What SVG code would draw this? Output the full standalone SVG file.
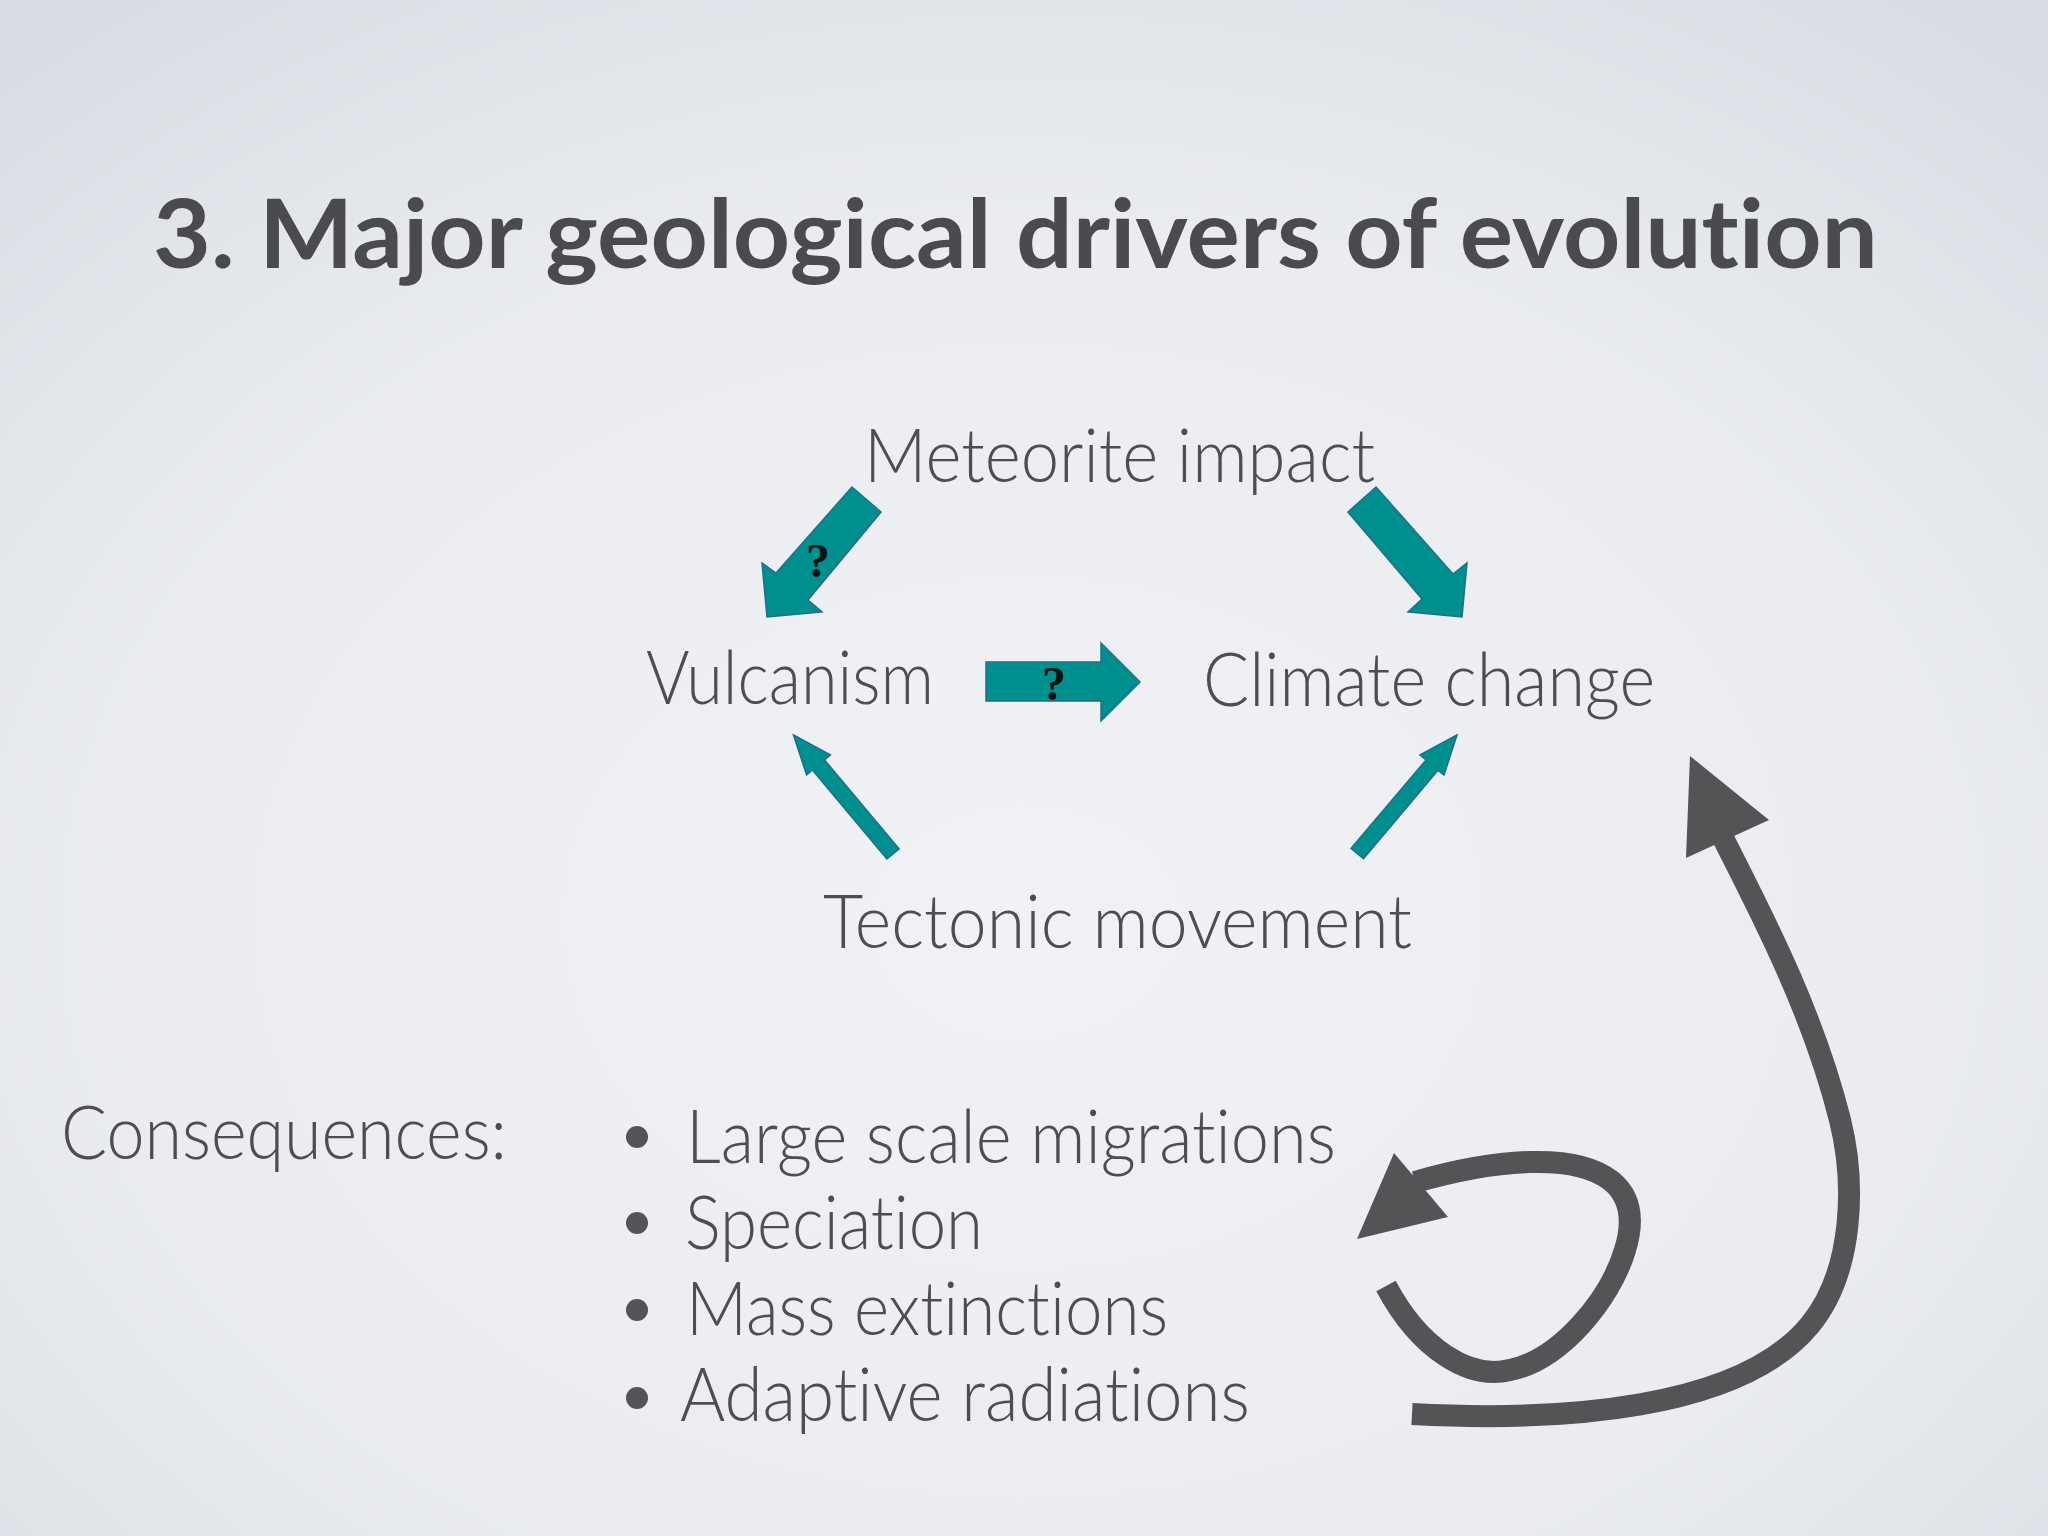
<svg xmlns="http://www.w3.org/2000/svg" width="2048" height="1536" viewBox="0 0 2048 1536">
<defs>
<radialGradient id="bg" cx="50%" cy="60%" r="75%">
<stop offset="0" stop-color="#f1f2f6"/>
<stop offset="0.6" stop-color="#eaecf0"/>
<stop offset="1" stop-color="#d9dde3"/>
</radialGradient>
<style>
.title{font-family:Lato,"Open Sans","Liberation Sans",sans-serif;font-weight:700;font-size:96px;fill:#4b4b4d;font-variant-ligatures:none}
.t{font-family:Lato,"Open Sans","Liberation Sans",sans-serif;font-weight:300;font-size:74px;fill:#4e4e50;font-variant-ligatures:none}
.q{font-family:"Liberation Serif","Times New Roman",serif;font-weight:700;font-size:48px;fill:#111}
.teal{fill:#008f8f;stroke:#1d6f8c;stroke-width:1.5;stroke-linejoin:miter}
.grey{fill:none;stroke:#545456;stroke-width:22}
.head{fill:#545456}
.bul{fill:#545456}
</style>
</defs>
<rect x="0" y="0" width="2048" height="1536" fill="url(#bg)"/>
<g id="title"><text class="title" x="153" y="268" textLength="1725" lengthAdjust="spacingAndGlyphs">3. Major geological drivers of evolution</text></g>
<g id="meteorite"><text class="t" x="864" y="482" textLength="511" lengthAdjust="spacingAndGlyphs">Meteorite impact</text></g>
<g id="vulcanism"><text class="t" x="646" y="704" textLength="288" lengthAdjust="spacingAndGlyphs">Vulcanism</text></g>
<g id="climate"><text class="t" x="1203" y="706" textLength="452" lengthAdjust="spacingAndGlyphs">Climate change</text></g>
<g id="tectonic"><text class="t" x="823" y="948" textLength="589" lengthAdjust="spacingAndGlyphs">Tectonic movement</text></g>
<g id="consequences"><text class="t" x="61" y="1159" textLength="446" lengthAdjust="spacingAndGlyphs">Consequences:</text></g>
<g id="list">
<circle class="bul" cx="637" cy="1137" r="11"/>
<text class="t" x="686" y="1163" textLength="650" lengthAdjust="spacingAndGlyphs">Large scale migrations</text>
<circle class="bul" cx="637" cy="1223" r="11"/>
<text class="t" x="685" y="1249" textLength="298" lengthAdjust="spacingAndGlyphs">Speciation</text>
<circle class="bul" cx="637" cy="1310" r="11"/>
<text class="t" x="686" y="1335" textLength="482" lengthAdjust="spacingAndGlyphs">Mass extinctions</text>
<circle class="bul" cx="637" cy="1398" r="11"/>
<text class="t" x="680" y="1421" textLength="570" lengthAdjust="spacingAndGlyphs">Adaptive radiations</text>
</g>
<g id="connectors">
<polygon class="teal" points="852,487 881,512 808,600 822,612 767,617 762,563 776,573"/>
<text class="q" x="806" y="577">?</text>
<polygon class="teal" points="1376,487 1348,512 1422,599 1408,612 1462,617 1467,563 1453,574"/>
<polygon class="teal" points="986,662 1101,662 1101,643 1140,682 1101,721 1101,701 986,701"/>
<text class="q" x="1042" y="700">?</text>
<polygon class="teal" points="793.5,735 830.4,755 824.6,760 899.1,849 886.9,859 812.4,770 806.6,775"/>
<polygon class="teal" points="1457,735 1420,755 1426,760 1351,848.5 1363.5,858.6 1438,770.3 1444,775"/>
<path class="grey" d="M1412,1414 C1560,1422 1740,1410 1810,1325 C1855,1270 1855,1180 1840,1120 C1815,1020 1770,930 1724,840"/>
<polygon class="head" points="1690,756 1686,858 1769,820"/>
<path class="grey" d="M1386,1286 C1420,1350 1470,1380 1510,1370 C1560,1360 1610,1300 1625,1250 C1645,1185 1600,1160 1530,1162 C1490,1163 1450,1172 1415,1182"/>
<polygon class="head" points="1357,1239 1394,1153 1448,1217"/>
</g>
</svg>
